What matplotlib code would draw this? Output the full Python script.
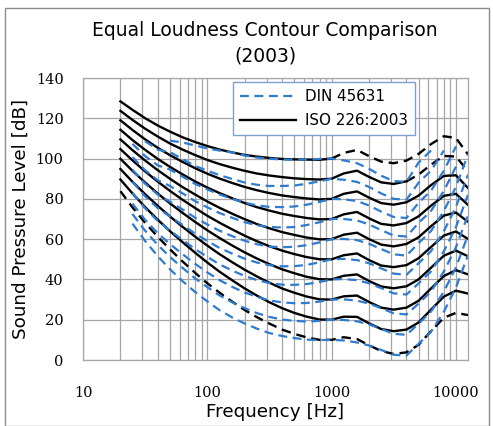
import matplotlib.pyplot as plt

nan = float('nan')
freq = [20, 25, 31.5, 40, 50, 63, 80, 100, 125, 160, 200, 250, 315, 400, 500, 630,
        800, 1000, 1250, 1600, 2000, 2500, 3150, 4000, 5000, 6300, 8000, 10000, 12500]

# ISO 226:2003 contours, 10 ... 100 phon
iso10 = [83.8,75.8,68.2,61.1,55.0,49.0,43.2,38.1,33.5,28.8,24.8,21.3,18.1,15.1,13.0,11.2,10.0,10.0,11.3,10.4,7.3,4.5,3.0,3.8,7.5,14.3,21.0,23.4,22.3]
iso20 = [89.6,82.7,76.0,69.6,64.0,58.6,53.2,48.4,43.9,39.4,35.5,32.0,28.7,25.7,23.4,21.5,20.1,20.0,21.5,21.4,18.2,15.4,14.3,15.1,18.6,25.0,31.5,34.4,33.0]
iso30 = [94.8,88.5,82.4,76.5,71.3,66.2,61.2,56.8,52.6,48.4,44.8,41.5,38.4,35.5,33.4,31.5,30.1,30.0,31.6,32.0,28.8,26.0,25.0,26.0,29.4,35.5,41.7,44.6,42.5]
iso40 = [99.9,93.9,88.2,82.6,77.8,73.1,68.5,64.4,60.6,56.7,53.4,50.4,47.6,45.0,43.1,41.3,40.1,40.0,41.8,42.5,39.2,36.5,35.6,36.6,40.0,45.8,51.8,54.3,51.5]
iso50 = [104.7,99.1,93.7,88.5,84.0,79.6,75.4,71.6,68.2,64.7,61.7,59.0,56.5,54.3,52.6,51.1,50.0,50.0,52.0,52.9,49.6,46.9,46.1,47.1,50.5,56.1,61.8,63.8,60.1]
iso60 = [109.5,104.2,99.1,94.2,90.0,85.9,82.1,78.7,75.6,72.5,69.9,67.5,65.4,63.5,62.1,60.8,59.9,60.0,62.2,63.2,60.0,57.3,56.4,57.6,60.9,66.4,71.7,73.2,68.6]
iso70 = [114.3,109.2,104.4,99.8,95.9,92.2,88.6,85.6,82.9,80.2,77.9,75.9,74.2,72.6,71.5,70.5,69.8,70.0,72.3,73.5,70.3,67.6,66.8,68.0,71.3,76.6,81.5,82.5,77.0]
iso80 = [119.0,114.2,109.6,105.3,101.7,98.4,95.2,92.5,90.1,87.8,85.9,84.3,82.9,81.7,80.9,80.2,79.7,80.0,82.5,83.7,80.6,77.9,77.1,78.3,81.6,86.8,91.4,91.7,85.4]
iso90 = [123.7,119.2,114.9,110.9,107.5,104.5,101.7,99.3,97.3,95.4,93.9,92.6,91.6,90.8,90.2,89.8,89.6,90.0,92.6,94.0,90.9,88.2,87.4,88.7,92.0,97.0,101.3,101.0,93.7]
iso100 = [128.4,124.2,120.1,116.4,113.4,110.6,108.2,106.2,104.5,103.0,101.8,101.0,100.3,99.8,99.6,99.5,99.4,100.0,102.8,104.3,101.2,98.5,97.7,99.0,102.3,107.2,111.1,110.2,102.1]
iso_curves = [iso10, iso20, iso30, iso40, iso50, iso60, iso70, iso80, iso90, iso100]

# DIN 45631 contours (25 Hz ... 12.5 kHz), 10 ... 100 phon
din_freq = freq[1:]
din10 = [67.7,59.2,51.5,45.1,39.2,33.7,29.1,24.8,21.0,18.1,15.6,13.4,11.9,10.9,10.1,9.9,10.0,9.7,8.7,7.2,5.0,2.6,2.2,8.0,14.0,24.0,36.0,52.0]
din20 = [72.5,64.3,57.1,51.2,45.8,40.5,36.2,32.1,28.5,25.7,23.3,21.4,20.1,19.4,19.1,19.4,20.0,19.9,19.2,17.7,15.4,13.0,12.5,18.0,24.0,34.0,46.0,62.0]
din30 = [77.6,69.7,62.9,57.6,52.6,47.7,43.5,39.7,36.2,33.5,31.4,29.6,28.6,28.2,28.3,29.0,30.0,30.1,29.5,28.0,25.7,23.2,22.6,28.0,34.0,44.0,56.0,72.0]
din40 = [82.9,75.4,69.0,64.3,59.7,55.0,51.2,47.5,44.3,41.7,39.7,38.2,37.4,37.3,37.7,38.7,40.0,40.2,39.6,38.1,35.7,33.1,32.5,38.0,44.0,54.0,66.0,82.0]
din50 = [88.5,81.3,75.4,71.3,67.1,62.7,59.1,55.7,52.7,50.3,48.4,47.1,46.5,46.6,47.2,48.5,50.0,50.2,49.6,48.0,45.5,42.9,42.3,48.0,54.0,64.0,76.0,92.0]
din60 = [94.4,87.6,82.1,78.6,74.8,70.6,67.3,64.2,61.4,59.2,57.5,56.3,56.0,56.2,57.0,58.4,60.0,60.1,59.5,57.7,55.1,52.5,51.8,58.0,64.0,74.0,86.0,102.0]
din70 = [100.7,94.3,89.2,86.4,82.8,78.8,75.8,73.0,70.5,68.4,66.9,66.0,65.8,66.0,67.0,68.4,70.0,70.0,69.3,67.3,64.5,61.8,61.3,68.0,74.0,84.0,96.0,nan]
din80 = [107.3,101.3,96.6,94.6,91.1,87.4,84.7,82.2,79.9,78.1,76.8,76.0,75.9,76.2,77.1,78.5,80.0,79.8,78.9,76.7,73.7,71.0,70.5,78.0,84.0,94.0,106.0,nan]
din90 = [nan,108.7,104.4,103.2,99.8,96.3,94.0,91.8,89.8,88.1,87.0,86.4,86.4,86.6,87.5,88.7,90.0,89.5,88.4,85.9,82.7,80.0,79.6,88.0,94.0,104.0,nan,nan]
din100 = [nan,nan,nan,108.9,108.0,106.5,105.0,104.0,103.0,101.5,100.5,100.0,99.5,99.5,99.5,99.8,100.0,99.1,97.7,94.9,91.5,88.8,88.5,98.0,104.0,nan,nan,nan]
din_curves = [din10, din20, din30, din40, din50, din60, din70, din80, din90, din100]

blue = '#2E7BCF'
fig = plt.figure(figsize=(4.93, 4.26), dpi=100)
fig.patches.append(plt.Rectangle((5 / 493, 0), 484 / 493, 418 / 426, transform=fig.transFigure,
                                 fill=False, edgecolor='#8C8C8C', lw=1.0))
ax = fig.add_axes([83 / 493, 66 / 426, 385 / 493, 282 / 426])

for i, c in enumerate(iso_curves):
    if i == 0:
        ax.plot(freq, c, color='black', lw=1.7, dashes=(4, 2.5))
    elif i == 8:
        ax.plot(freq[:24], c[:24], color='black', lw=1.7)
        ax.plot(freq[23:], c[23:], color='black', lw=1.7, dashes=(4, 2.5))
    elif i == 9:
        ax.plot(freq[:18], c[:18], color='black', lw=1.7)
        ax.plot(freq[17:], c[17:], color='black', lw=1.7, dashes=(4, 2.5))
    else:
        ax.plot(freq, c, color='black', lw=1.7)
for c in din_curves:
    ax.plot(din_freq, c, color=blue, lw=1.6, dashes=(4, 2.5))

ax.plot([], [], color=blue, lw=1.6, dashes=(4, 2.5), label='DIN 45631')
ax.plot([], [], color='black', lw=1.7, label='ISO 226:2003')

ax.set_xscale('log')
ax.set_xlim(10, 12500)
ax.set_ylim(0, 140)
ax.set_yticks(range(0, 141, 20))
ax.set_xticks([10, 100, 1000, 10000])
ax.set_xticklabels(['10', '100', '1000', '10000'])
ax.grid(True, which='both', color='#A6A6A6', lw=0.9)
ax.set_axisbelow(True)
for s in ax.spines.values():
    s.set_color('#A6A6A6')
    s.set_linewidth(0.9)
ax.tick_params(axis='both', which='both', length=0)
ax.tick_params(axis='x', pad=19)
ax.tick_params(axis='y', pad=14)
for lab in ax.get_xticklabels() + ax.get_yticklabels():
    lab.set_fontfamily('DejaVu Serif')
    lab.set_fontsize(10.5)

ax.set_xlabel('Frequency [Hz]', fontsize=13.2, labelpad=2)
ax.set_ylabel('Sound Pressure Level [dB]', fontsize=13.2, labelpad=4)
fig.text(265 / 493, 1 - 43 / 426, 'Equal Loudness Contour Comparison\n(2003)', ha='center',
         va='center', fontsize=13.5, linespacing=1.45)

leg = ax.legend(loc='upper left', bbox_to_anchor=(233 / 493, 1 - 82 / 426), bbox_transform=fig.transFigure,
                borderaxespad=0, fontsize=10.9, handlelength=3.7, handletextpad=0.6,
                borderpad=0.45, labelspacing=0.62, fancybox=False, framealpha=1)
leg.get_frame().set_edgecolor('#7F9FCF')
leg.get_frame().set_linewidth(1.0)

fig.savefig('out.png', dpi=100)
